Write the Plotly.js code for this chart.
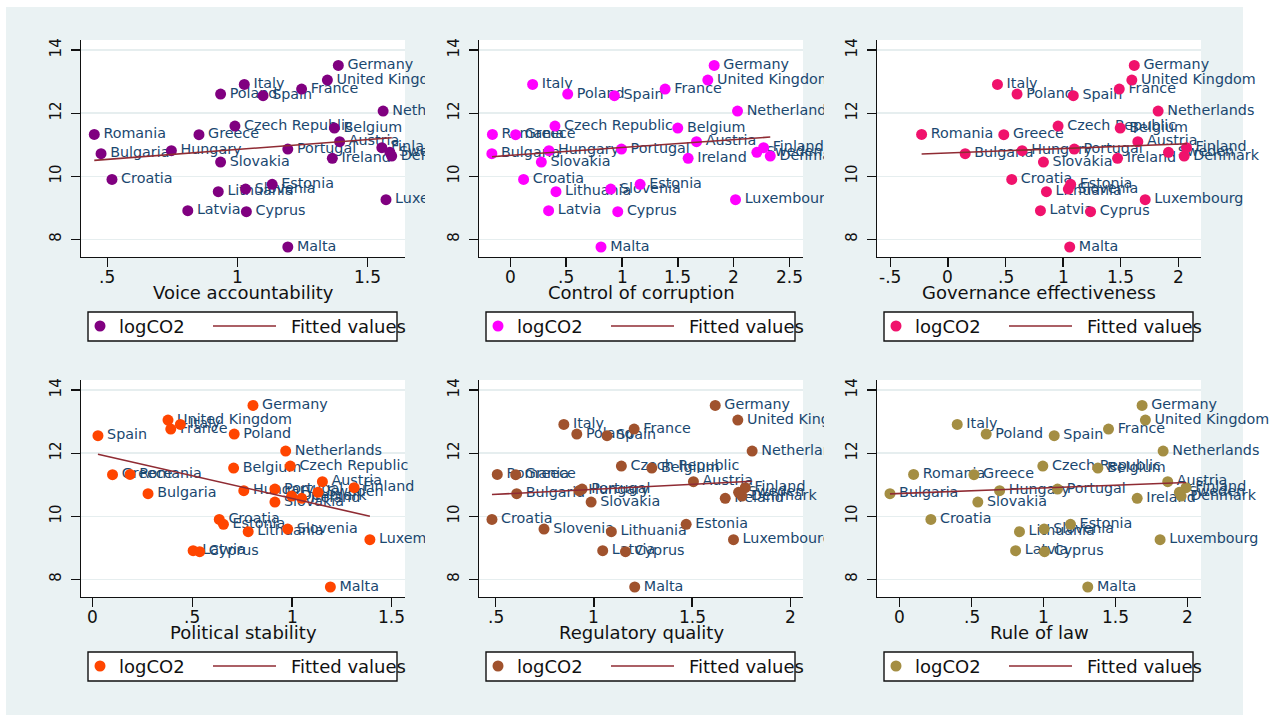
<!DOCTYPE html>
<html><head><meta charset="utf-8">
<script src="https://cdn.plot.ly/plotly-3.0.1.min.js"></script>
<style>
body{margin:0;background:#fff;}
#wrap{position:relative;width:1279px;height:716px;overflow:hidden;background:#fff;}
#bg{position:absolute;left:6px;top:7px;width:1237px;height:708px;background:#eaf2f3;}
.p{position:absolute;}
</style></head><body>
<div id="wrap"><div id="bg"></div>
<div id="p1" class="p"></div><div id="p2" class="p"></div><div id="p3" class="p"></div>
<div id="p4" class="p"></div><div id="p5" class="p"></div><div id="p6" class="p"></div>
</div>
<script>
// ---- data ----
const countries = ['Austria','Belgium','Bulgaria','Croatia','Cyprus','Czech Republic','Denmark','Estonia','Finland','France','Germany','Greece','Hungary','Ireland','Italy','Latvia','Lithuania','Luxembourg','Malta','Netherlands','Poland','Portugal','Romania','Slovakia','Slovenia','Spain','Sweden','United Kingdom'];
const logCO2 = [11.095,11.528,10.715,9.901,8.877,11.592,10.64,9.743,10.905,12.764,13.514,11.317,10.81,10.567,12.912,8.909,9.511,9.257,7.757,12.067,12.606,10.863,11.327,10.451,9.595,12.553,10.76,13.049];
const voiceAccountability = [1.392,1.372,0.476,0.518,1.034,0.990,1.592,1.133,1.554,1.246,1.387,0.852,0.746,1.364,1.026,0.809,0.926,1.570,1.193,1.559,0.935,1.193,0.450,0.935,1.031,1.098,1.585,1.345];
const controlCorruption = [1.667,1.499,-0.165,0.119,0.962,0.400,2.327,1.162,2.267,1.386,1.825,0.048,0.346,1.592,0.200,0.343,0.409,2.016,0.812,2.034,0.514,0.995,-0.160,0.278,0.899,0.932,2.207,1.768];
const governanceEffectiveness = [1.648,1.495,0.150,0.554,1.238,0.956,2.050,1.065,2.070,1.487,1.617,0.485,0.644,1.472,0.430,0.803,0.855,1.712,1.057,1.824,0.600,1.097,-0.228,0.829,1.045,1.088,1.914,1.596];
const politicalStability = [1.152,0.707,0.278,0.635,0.537,0.991,0.998,0.656,1.311,0.392,0.804,0.100,0.758,1.048,0.440,0.504,0.780,1.390,1.192,0.968,0.710,0.914,0.188,0.914,0.978,0.027,1.130,0.378];
const regulatoryQuality = [1.507,1.295,0.607,0.481,1.161,1.140,1.754,1.470,1.771,1.205,1.618,0.602,0.925,1.669,0.847,1.045,1.089,1.711,1.208,1.806,0.913,0.940,0.508,0.986,0.746,1.067,1.737,1.733];
const ruleOfLaw = [1.861,1.376,-0.067,0.217,1.006,0.994,1.954,1.186,1.988,1.450,1.683,0.516,0.694,1.649,0.400,0.805,0.832,1.808,1.306,1.829,0.601,1.096,0.097,0.543,1.003,1.073,1.942,1.706];

// fitted-value line end points
const fitVoiceX = [0.450,1.592], fitVoiceY = [10.504,11.222];
const fitCorrX = [-0.164,2.327], fitCorrY = [10.62,11.243];
const fitGovX = [-0.228,2.073], fitGovY = [10.704,11.03];
const fitPolX = [0.027,1.390], fitPolY = [11.968,10.0];
const fitRegX = [0.481,1.806], fitRegY = [10.688,11.111];
const fitRuleX = [-0.067,1.988], fitRuleY = [10.709,11.069];

// tick labels
const yTickVals = [8,10,12,14], yTickText = ['8','10','12','14'];
const ticksVoice = [0.5,1,1.5], ticksVoiceText = ['.5','1','1.5'];
const ticksCorr = [0,0.5,1,1.5,2,2.5], ticksCorrText = ['0','.5','1','1.5','2','2.5'];
const ticksGov = [-0.5,0,0.5,1,1.5,2], ticksGovText = ['-.5','0','.5','1','1.5','2'];
const ticksPol = [0,0.5,1,1.5], ticksPolText = ['0','.5','1','1.5'];
const ticksReg = [0.5,1,1.5,2], ticksRegText = ['.5','1','1.5','2'];
const ticksRule = [0,0.5,1,1.5,2], ticksRuleText = ['0','.5','1','1.5','2'];

const legendNames = ['logCO2','Fitted values'];

// ---- layout ----
const FONT = 'DejaVu Sans';
const FITCOLOR = '#8f2b33';
const LABELCOLOR = '#1a476f';
const cols = [{left:0,width:425,plotL:81},{left:425,width:399,plotL:54},{left:824,width:455,plotL:53}];
const rows = [{top:0,height:358,plotT:40},{top:358,height:358,plotT:22}];
const PW = 324, PH = 217;

const panels = [
 {id:'p1',col:0,row:0,x:voiceAccountability,title:'Voice accountability',color:'#800080',range:[0.399,1.643],tv:ticksVoice,tt:ticksVoiceText,fx:fitVoiceX,fy:fitVoiceY},
 {id:'p2',col:1,row:0,x:controlCorruption,title:'Control of corruption',color:'#ff00ff',range:[-0.28,2.62],tv:ticksCorr,tt:ticksCorrText,fx:fitCorrX,fy:fitCorrY},
 {id:'p3',col:2,row:0,x:governanceEffectiveness,title:'Governance effectiveness',color:'#f0126c',range:[-0.615,2.196],tv:ticksGov,tt:ticksGovText,fx:fitGovX,fy:fitGovY},
 {id:'p4',col:0,row:1,x:politicalStability,title:'Political stability',color:'#ff4500',range:[-0.058,1.566],tv:ticksPol,tt:ticksPolText,fx:fitPolX,fy:fitPolY},
 {id:'p5',col:1,row:1,x:regulatoryQuality,title:'Regulatory quality',color:'#a0522d',range:[0.415,2.065],tv:ticksReg,tt:ticksRegText,fx:fitRegX,fy:fitRegY},
 {id:'p6',col:2,row:1,x:ruleOfLaw,title:'Rule of law',color:'#a48e43',range:[-0.157,2.092],tv:ticksRule,tt:ticksRuleText,fx:fitRuleX,fy:fitRuleY}
];

function px(dx){return dx/PW;}
function py(dy){return -dy/PH;}

panels.forEach(p=>{
  const c = cols[p.col], r = rows[p.row];
  const el = document.getElementById(p.id);
  el.style.left = c.left+'px'; el.style.top = r.top+'px';
  el.style.width = c.width+'px'; el.style.height = r.height+'px';
  const margin = {l:c.plotL, r:c.width-c.plotL-PW, t:r.plotT, b:r.height-r.plotT-PH, pad:0};

  const traces = [
    {x:p.x, y:logCO2, text:countries, mode:'markers+text', textposition:'middle right',
     textfont:{family:FONT,size:14.3,color:LABELCOLOR}, marker:{size:13,color:'rgba(0,0,0,0)'},
     cliponaxis:false, hoverinfo:'skip', showlegend:false},
    {x:p.x, y:logCO2, mode:'markers', marker:{size:11,color:p.color}, name:legendNames[0],
     cliponaxis:false, showlegend:false},
    {x:p.fx, y:p.fy, mode:'lines', line:{color:FITCOLOR,width:1.6}, name:legendNames[1], showlegend:false}
  ];

  const shapes = [
    {type:'rect',xref:'paper',yref:'paper',x0:px(7),x1:px(316),y0:py(84),y1:py(55),
     line:{color:'#111',width:1.4},fillcolor:'#ffffff',layer:'above'},
    {type:'circle',xref:'paper',yref:'paper',x0:px(13.5),x1:px(24.5),y0:py(74.5),y1:py(63.5),
     line:{width:0},fillcolor:p.color,layer:'above'},
    {type:'line',xref:'paper',yref:'paper',x0:px(132),x1:px(195),y0:py(69),y1:py(69),
     line:{color:FITCOLOR,width:1.6},layer:'above'}
  ];
  const annotations = [
    {xref:'paper',yref:'paper',x:0.5,y:py(35.5),xanchor:'center',yanchor:'middle',showarrow:false,
     text:p.title,font:{family:FONT,size:18,color:'#111'}},
    {xref:'paper',yref:'paper',x:px(36),y:py(69),xanchor:'left',yanchor:'middle',showarrow:false,
     text:legendNames[0],font:{family:FONT,size:18,color:'#111'}},
    {xref:'paper',yref:'paper',x:px(208),y:py(69),xanchor:'left',yanchor:'middle',showarrow:false,
     text:legendNames[1],font:{family:FONT,size:18,color:'#111'}}
  ];
  // x tick labels placed on the x scale
  p.tv.forEach((v,i)=>{
    annotations.push({xref:'x',yref:'paper',x:v,y:py(20),xanchor:'center',yanchor:'middle',showarrow:false,
      text:p.tt[i],font:{family:FONT,size:17,color:'#111'}});
  });

  const layout = {
    width:c.width, height:r.height, margin:margin,
    paper_bgcolor:'rgba(0,0,0,0)', plot_bgcolor:'#ffffff',
    showlegend:false, hovermode:false,
    font:{family:FONT,color:'#111'},
    xaxis:{range:p.range, tickvals:p.tv, ticktext:p.tt, showticklabels:false, showgrid:false, zeroline:false,
      showline:true, linecolor:'#111', linewidth:1.3, ticks:'outside', ticklen:9, tickwidth:1.3, tickcolor:'#111'},
    yaxis:{range:[7.44,14.32], tickvals:yTickVals, ticktext:yTickText, tickangle:-90,
      showgrid:true, gridcolor:'#e6eeef', gridwidth:1.5, zeroline:false,
      showline:true, linecolor:'#111', linewidth:1.3, ticks:'outside', ticklen:9, tickwidth:1.3, tickcolor:'#111',
      ticklabelstandoff:4,
      tickfont:{family:FONT,size:15,color:'#111'}},
    shapes:shapes, annotations:annotations
  };
  Plotly.newPlot(el, traces, layout, {displayModeBar:false, staticPlot:true});
});
</script>
</body></html>
